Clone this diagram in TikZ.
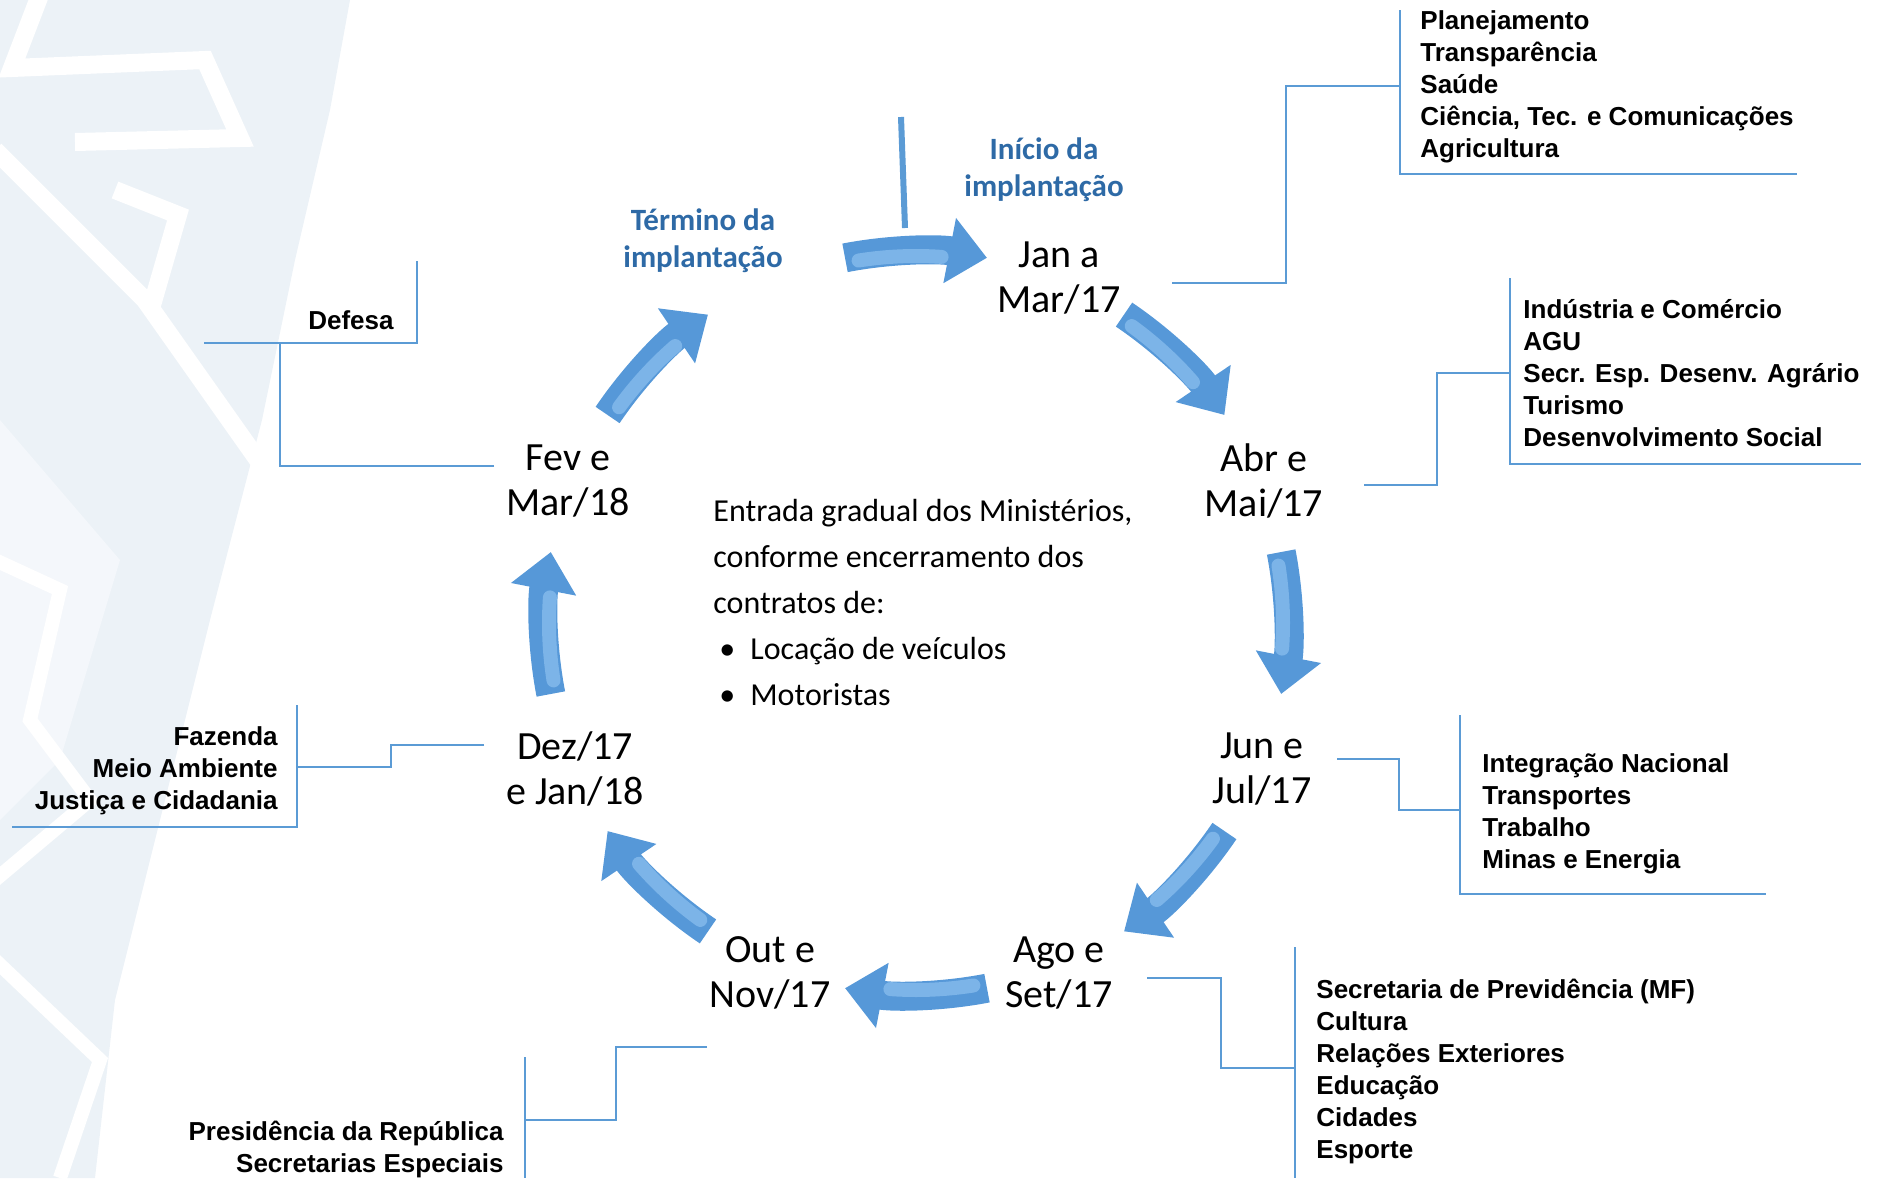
\documentclass[tikz,border=0pt]{standalone}
\usepackage{fontspec}
\setmainfont{Carlito}
\newfontfamily\listfont{Liberation Sans}
\usetikzlibrary{arrows.meta,calc}
\definecolor{linkblue}{RGB}{91,155,213}
\definecolor{phaseblue}{RGB}{46,106,166}
\definecolor{arrowmid}{RGB}{86,152,216}
\definecolor{arrowlite}{RGB}{124,180,232}
\definecolor{markA}{RGB}{236,242,247}
\definecolor{markB}{RGB}{244,247,251}
\tikzset{
  mes/.style = {align=center, inner sep=0pt,
    font=\fontsize{20}{22.5}\selectfont},% mes do ciclo
  fase/.style = {align=center, inner sep=0pt, text=phaseblue,
    font=\fontsize{15.5}{18.5}\selectfont\bfseries},% inicio / termino
  lista/.style = {align=left, inner sep=0pt,
    font=\listfont\bfseries\fontsize{13}{16}\selectfont},% ministerios
  listaR/.style = {lista, align=right},
  conn/.style = {draw=linkblue, line width=1pt},
  brk/.style = {draw=linkblue, line width=1.2pt},
  cyc/.style = {draw=arrowmid, line width=14.5pt,
    -{Triangle[length=19pt,width=32pt]}},% seta do ciclo
  cycshine/.style = {draw=arrowlite, line width=7pt, line cap=round}
}

\begin{document}
\begin{tikzpicture}[x=0.5pt,y=-0.5pt]
  \useasboundingbox (0,0) rectangle (1879,1178);

  % marca d'agua
  \fill[markA] (0,0) -- (350,0) -- (330,110) -- (295,260) -- (262,420) -- (210,620)
    -- (160,820) -- (115,1000) -- (95,1178) -- (0,1178) -- cycle;
  \fill[markB] (0,420) -- (120,560) -- (60,760) -- (0,820) -- cycle;
  \draw[white, line width=9pt] (40,-5) -- (12,68) -- (205,60) -- (240,138) -- (75,142);
  \draw[white, line width=9pt] (-5,150) -- (145,300) -- (265,470);
  \draw[white, line width=9pt] (115,190) -- (178,215) -- (150,312);
  \draw[white, line width=7pt] (-5,560) -- (60,590) -- (30,720) -- (90,800) -- (-5,880);
  \draw[white, line width=7pt] (-5,960) -- (100,1060) -- (60,1178);

  % meses
  \coordinate (ctr) at (916,623);
  \node[mes] (jan) at (1059,278) {Jan a\\Mar/17};
  \node[mes] (abr) at (1264,481) {Abr e\\Mai/17};
  \node[mes] (jun) at (1262,769) {Jun e\\Jul/17};
  \node[mes] (ago) at (1059,973) {Ago e\\Set/17};
  \node[mes] (out) at (770,973) {Out e\\Nov/17};
  \node[mes] (dez) at (575,769) {Dez/17\\e Jan/18};
  \node[mes] (fev) at (568,481) {Fev e\\Mar/18};
  \node[fase] (inicio) at (1044,170) {Início da\\implantação};
  \node[fase] (termino) at (703,241) {Término da\\implantação};

  % setas do ciclo
  \foreach \a in {-90,-45,...,225} {
    \draw[cyc] ($(ctr)+(\a-11:372)$) arc[start angle=\a-11, end angle=\a+11, radius=372];
    \draw[cycshine] ($(ctr)+(\a-9:367)$) arc[start angle=\a-9, end angle=\a+4, radius=367];
  }

  \node[anchor=north west, inner sep=0pt, align=left,
    font=\fontsize{16}{23}\selectfont] (txt) at (713,499)
    {Entrada gradual dos Ministérios,\\conforme encerramento dos\\contratos de:\\
     \hspace*{3pt}\makebox[15.5pt][l]{\textbullet}Locação de veículos\\
     \hspace*{3pt}\makebox[15.5pt][l]{\textbullet}Motoristas};

  % ministerios
  \node[lista, anchor=north west] (ljan) at (1420,10)
    {Planejamento\\Transparência\\Saúde\\Ciência, Tec. e Comunicações\\Agricultura};
  \node[lista, anchor=north west] (labr) at (1523,299)
    {Indústria e Comércio\\AGU\\Secr. Esp. Desenv. Agrário\\Turismo\\Desenvolvimento Social};
  \node[lista, anchor=north west] (ljun) at (1482,753)
    {Integração Nacional\\Transportes\\Trabalho\\Minas e Energia};
  \node[lista, anchor=north west] (lago) at (1316,979)
    {Secretaria de Previdência (MF)\\Cultura\\Relações Exteriores\\Educação\\Cidades\\Esporte};
  \node[listaR, anchor=north east] (lout) at (504,1121)
    {Presidência da República\\Secretarias Especiais};
  \node[listaR, anchor=north east] (ldez) at (278,726)
    {Fazenda\\Meio Ambiente\\Justiça e Cidadania};
  \node[lista, anchor=north east] (lfev) at (394,310) {Defesa};

  \draw[brk] (1400,10) |- (1797,174);
  \draw[brk] (1510,278) |- (1861,464);
  \draw[brk] (1460,715) |- (1766,894);
  \draw[brk] (1295,947) -- (1295,1178);
  \draw[brk] (525,1057) -- (525,1178);
  \draw[brk] (297,705) |- (12,827);
  \draw[brk] (417,261) |- (204,343);

  % ligacoes
  \coordinate (pinT) at (901,117);
  \coordinate (pinB) at (905,228);
  \draw[draw=linkblue, line width=3pt] (pinT) -- (pinB);
  \coordinate (cjan) at (1172,283);  \coordinate (kjan) at (1400,86);
  \coordinate (cabr) at (1364,485);  \coordinate (kabr) at (1510,373);
  \coordinate (cjun) at (1337,759);  \coordinate (kjun) at (1460,810);
  \coordinate (cago) at (1147,978);  \coordinate (kago) at (1295,1068);
  \coordinate (cout) at (707,1047);  \coordinate (kout) at (525,1120);
  \coordinate (cdez) at (484,745);   \coordinate (kdez) at (297,767);
  \coordinate (cfev) at (494,466);   \coordinate (kfev) at (280,343);
  \foreach \m in {jan,abr,jun,ago,out,dez}
    \draw[conn] (c\m) -| ($(c\m)!.5!(k\m)$) |- (k\m);
  \draw[conn] (cfev) -| (kfev);
\end{tikzpicture}
\end{document}
